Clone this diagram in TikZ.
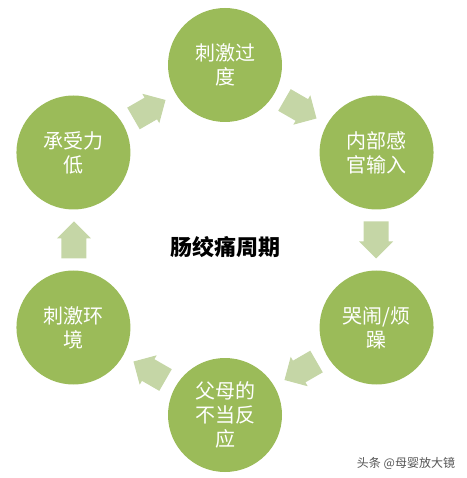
\documentclass[tikz,border=0pt]{standalone}
\usepackage{fontspec}
\newfontfamily\cjk{Noto Sans CJK SC}
\definecolor{circgreen}{HTML}{9BBB59}
\definecolor{arrowgreen}{HTML}{C5D6A6}
\definecolor{wmgray}{HTML}{555555}
\begin{document}
\begin{tikzpicture}[x=1pt,y=1pt,
  stage/.style={circle,fill=circgreen,minimum size=114pt,inner sep=0pt,text=white,
    align=center,font=\cjk\fontsize{20}{24}\selectfont},
  blockarrow/.pic={\fill[arrowgreen] (-18.5,-12.5) -- (1.5,-12.5) -- (1.5,-17) -- (18.5,0)
     -- (1.5,17) -- (1.5,12.5) -- (-18.5,12.5) -- cycle;}]
\useasboundingbox (-225,-238) rectangle (241,240);
\node[stage] (s1) at (90:175) {刺激过\\度};
\node[stage] (s2) at (30:175) {内部感\\官输入};
\node[stage] (s3) at (-30:175) {哭闹/烦\\躁};
\node[stage] (s4) at (-90:175) {父母的\\不当反\\应};
\node[stage] (s5) at (-150:175) {刺激环\\境};
\node[stage] (s6) at (150:175) {承受力\\低};
\pic[rotate=-30] (a1) at (60:151) {blockarrow};
\pic[rotate=-90] (a2) at (0:151) {blockarrow};
\pic[rotate=-150] (a3) at (-60:151) {blockarrow};
\pic[rotate=150] (a4) at (-120:151) {blockarrow};
\pic[rotate=90] (a5) at (180:151) {blockarrow};
\pic[rotate=30] (a6) at (120:151) {blockarrow};
\node[font=\cjk\bfseries\fontsize{22}{26}\selectfont] (title) at (0,-7) {肠绞痛周期};
\node[font=\cjk\fontsize{12}{14}\selectfont,text=wmgray] (wm) at (181,-223) {头条 @母婴放大镜};
\end{tikzpicture}
\end{document}
